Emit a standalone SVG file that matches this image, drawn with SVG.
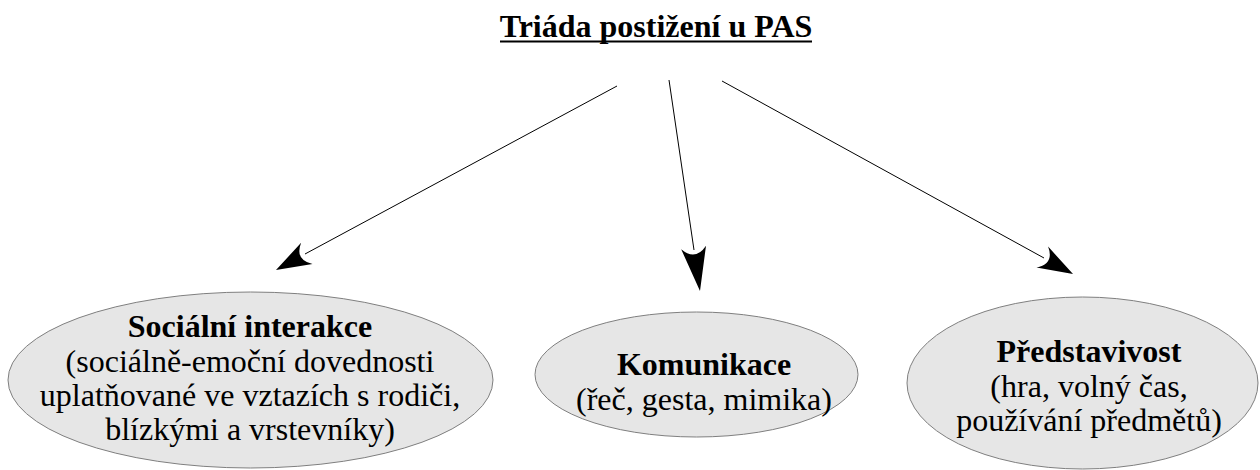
<svg xmlns="http://www.w3.org/2000/svg" width="1260" height="470" viewBox="0 0 1260 470">
<style>
text{font-family:"Liberation Serif","Times New Roman",serif;fill:#000;text-anchor:middle;font-size:32px}
.t{font-weight:bold}
.b{font-weight:bold}
.node{fill:#e6e6e6;stroke:#7f7f7f;stroke-width:1}
.ln{stroke:#000;stroke-width:1;fill:none}
.head{fill:#000;stroke:none}
</style>
<rect width="1260" height="470" fill="#fff"/>
<g id="title">
<text class="t" x="656" y="37">Triáda postižení u PAS</text>
<rect x="500" y="40.5" width="312" height="2" fill="#000"/>
</g>
<g id="connectors">
<line class="ln" x1="617" y1="86" x2="305" y2="254"/>
<path class="head" d="M276,270 L301.1,242.8 Q294.5,260 312.5,264 Z"/>
<line class="ln" x1="669" y1="80" x2="694" y2="250"/>
<path class="head" d="M700,291 L681.2,249.3 Q695.6,261.3 706,245.7 Z"/>
<line class="ln" x1="722" y1="81" x2="1044" y2="258"/>
<path class="head" d="M1073,274 L1048.1,246.6 Q1054.6,263.9 1036.5,267.6 Z"/>
</g>
<g id="social">
<ellipse class="node" cx="250.5" cy="380" rx="242.5" ry="88"/>
<text class="b" x="250" y="337">Sociální interakce</text>
<text x="250" y="372">(sociálně-emoční dovednosti</text>
<text x="250" y="406">uplatňované ve vztazích s rodiči,</text>
<text x="250" y="440">blízkými a vrstevníky)</text>
</g>
<g id="komunikace">
<ellipse class="node" cx="696.5" cy="374.5" rx="161.5" ry="62.5"/>
<text class="b" x="704" y="375">Komunikace</text>
<text x="704" y="410">(řeč, gesta, mimika)</text>
</g>
<g id="predstavivost">
<ellipse class="node" cx="1082.5" cy="383" rx="175.5" ry="86"/>
<text class="b" x="1089" y="362">Představivost</text>
<text x="1089" y="397">(hra, volný čas,</text>
<text x="1089" y="431">používání předmětů)</text>
</g>
</svg>
